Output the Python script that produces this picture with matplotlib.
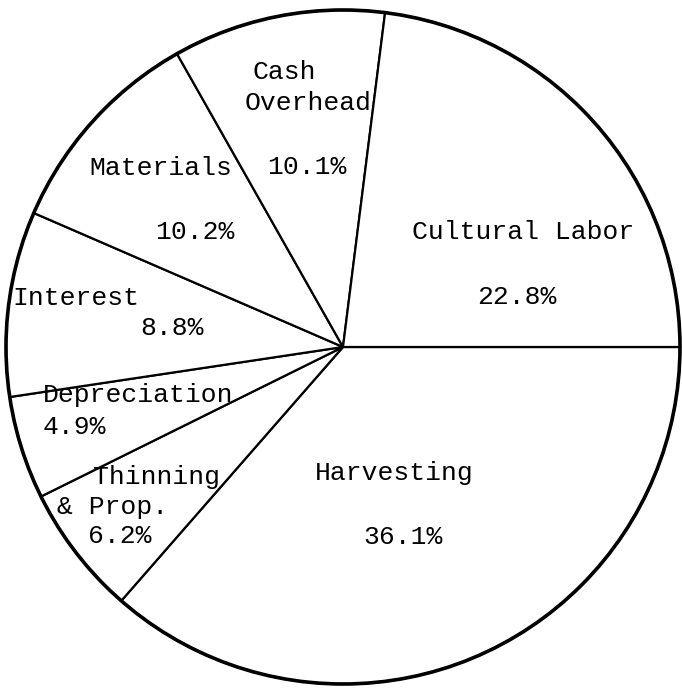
import matplotlib
matplotlib.use("Agg")
import matplotlib.pyplot as plt

# slices, clockwise from 3 o'clock
labels = ["Harvesting", "Thinning & Prop.", "Depreciation", "Interest",
          "Materials", "Cash Overhead", "Cultural Labor"]
shares = [36.1, 6.2, 4.9, 8.8, 10.2, 10.1, 22.8]

W, H = 682, 688
cx, cy, r = 343, 347, 337  # pie centre / radius in pixels

fig = plt.figure(figsize=(W / 100, H / 100), dpi=100)
ax = fig.add_axes([0, 0, 1, 1])

ax.pie(shares, startangle=0, counterclock=False, radius=1,
       colors=["white"] * len(shares),
       wedgeprops=dict(edgecolor="black", linewidth=1.6))
ax.add_patch(plt.Circle((0, 0), 1, fill=False, edgecolor="black", linewidth=2.6))

ax.set_xlim(-cx / r, (W - cx) / r)
ax.set_ylim(-(H - cy) / r, cy / r)
ax.axis("off")

# typed labels: (text, left x px, centre y px)
typed = [
    ("Cash", 252, 72), ("Overhead", 245, 103), ("10.1%", 267, 167),
    ("Materials", 89, 168), ("10.2%", 155, 232),
    ("Cultural Labor", 412, 232), ("22.8%", 477, 297),
    ("Interest", 12, 298), ("8.8%", 140, 328),
    ("Depreciation", 43, 395), ("4.9%", 43, 427),
    ("Thinning", 93, 477), ("& Prop.", 57, 507), ("6.2%", 88, 536),
    ("Harvesting", 315, 473), ("36.1%", 363, 537),
]
for txt, x, y in typed:
    fig.text(x / W, 1 - y / H, txt, ha="left", va="center",
             family="Liberation Mono", fontsize=19)

fig.savefig("out.png", dpi=100, facecolor="white")
